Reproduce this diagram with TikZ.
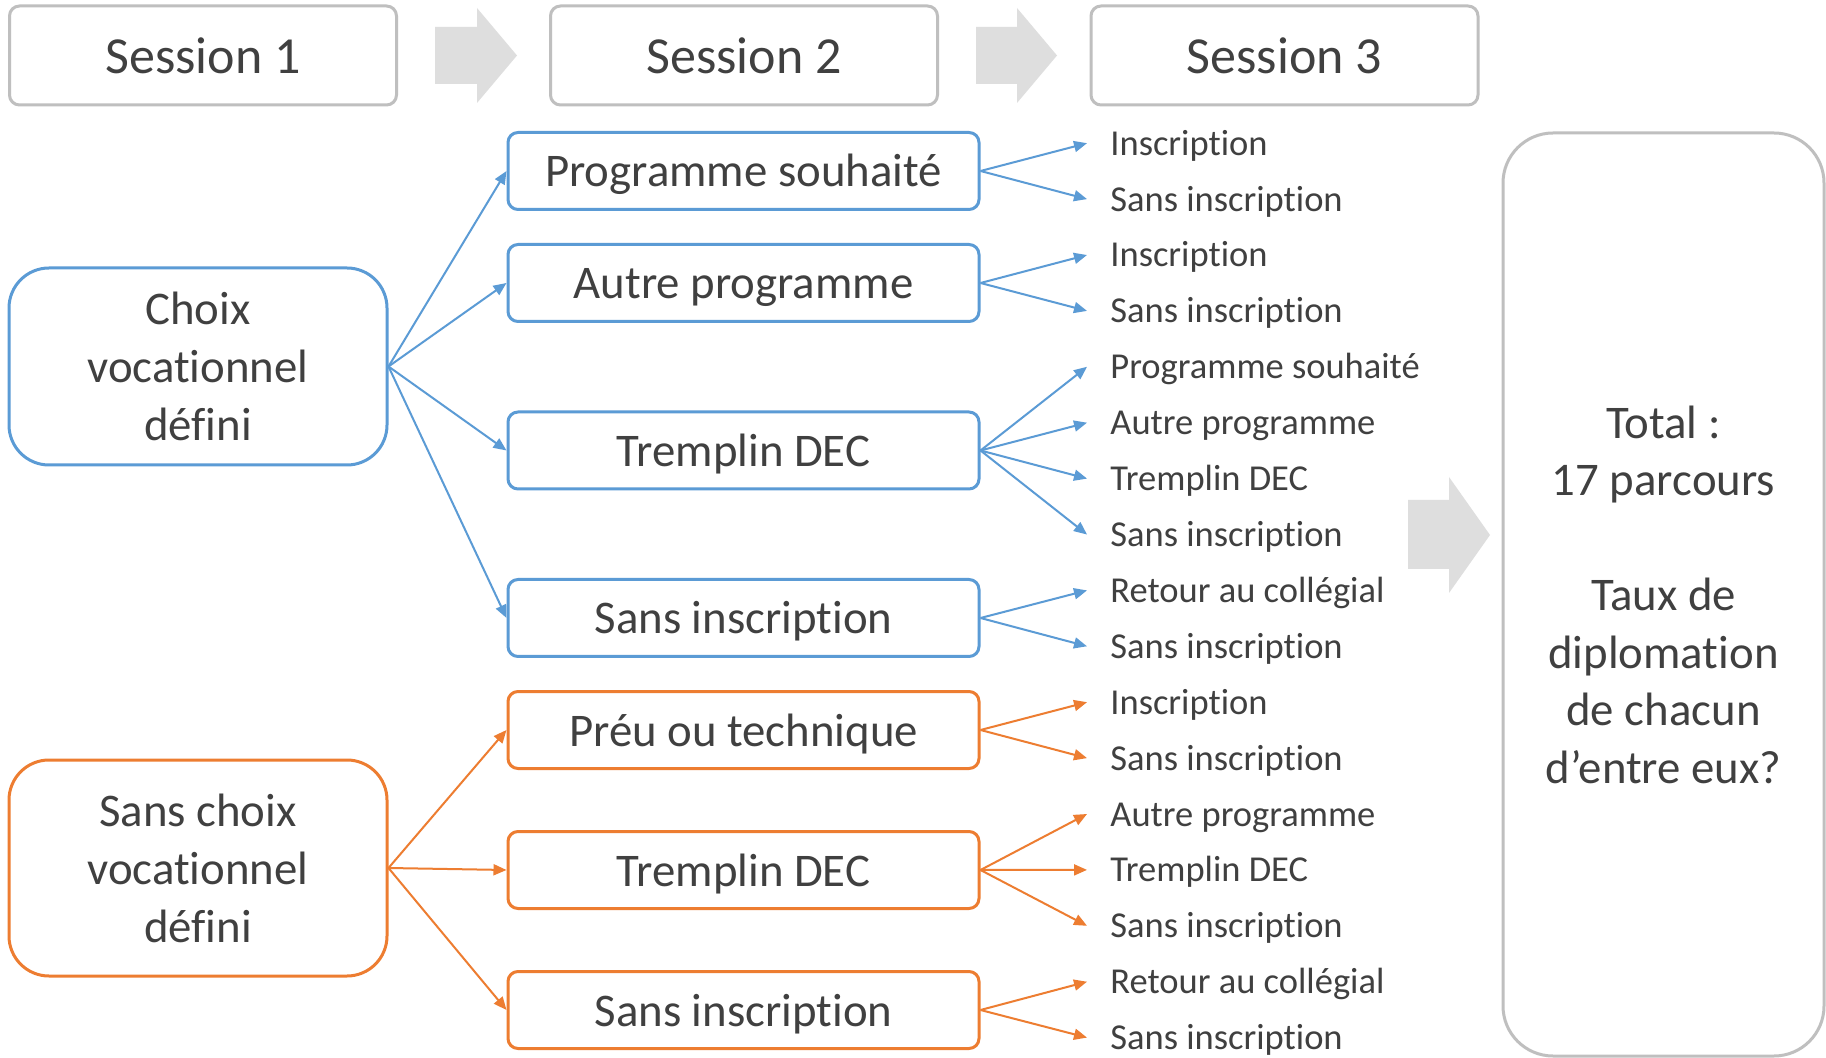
\documentclass[tikz,border=0pt]{standalone}
\usepackage{fontspec}
\setmainfont{Carlito}[Ligatures=NoCommon]
\usetikzlibrary{arrows.meta}
\definecolor{cblue}{HTML}{5B9BD5}
\definecolor{corange}{HTML}{ED7D31}
\definecolor{cgrayline}{HTML}{BFBFBF}
\definecolor{cgrayfill}{HTML}{DEDEDE}
\definecolor{ctext}{HTML}{404040}
\begin{document}
\begin{tikzpicture}[x=0.5pt,y=-0.5pt,
  every node/.style={text=ctext},
  sessbox/.style={draw=cgrayline,line width=1.5pt,rounded corners=5pt,minimum width=193.5pt,minimum height=49.5pt,font=\fontsize{26}{31}\selectfont},
  midbox/.style={line width=1.5pt,rounded corners=5pt,minimum width=235.5pt,minimum height=38.5pt,font=\fontsize{23.4}{28}\selectfont,text height=18pt,text depth=2pt},
  leftbox/.style={line width=1.5pt,rounded corners=20pt,minimum width=189pt,align=center,font=\fontsize{23.4}{29}\selectfont},
  lbl/.style={anchor=west,inner xsep=11.5pt,inner ysep=0pt,font=\fontsize{18.25}{22}\selectfont,text height=14pt,text depth=2pt},
  bconn/.style={draw=cblue,line width=1pt,-{Triangle[length=6.5pt,width=5.5pt]}},
  oconn/.style={draw=corange,line width=1pt,-{Triangle[length=6.5pt,width=5.5pt]}},
  grayarrow/.style={fill=cgrayfill,draw=none}
]
\fill[white] (0,0) rectangle (1826,1058);
\useasboundingbox (0,0) rectangle (1826,1058);

% session headers
\node[sessbox] (s1) at (203,55.5) {Session 1};
\node[sessbox] (s2) at (744,55.5) {Session 2};
\node[sessbox] (s3) at (1284.5,55.5) {Session 3};
\fill[grayarrow] (435,27) -- (477,27) -- (477,8) -- (517,55.5) -- (477,103) -- (477,84) -- (435,84) -- cycle;
\fill[grayarrow] (976,27) -- (1017,27) -- (1017,8) -- (1057,55.5) -- (1017,103) -- (1017,84) -- (976,84) -- cycle;
\fill[grayarrow] (1408,500) -- (1449,500) -- (1449,477) -- (1490,535) -- (1449,593) -- (1449,569) -- (1408,569) -- cycle;

% left boxes
\node[leftbox,draw=cblue,minimum height=98.5pt] (choix) at (198,366.5) {Choix\\vocationnel\\défini};
\node[leftbox,draw=corange,minimum height=108pt] (sans) at (198,868) {Sans choix\\vocationnel\\défini};

% middle boxes
\node[midbox,draw=cblue] (ps) at (743.5,171) {Programme souhaité};
\node[midbox,draw=cblue] (ap) at (743.5,283) {Autre programme};
\node[midbox,draw=cblue] (td) at (743.5,450.5) {Tremplin DEC};
\node[midbox,draw=cblue] (si) at (743.5,618) {Sans inscription};
\node[midbox,draw=corange] (pt) at (743.5,730) {Préu ou technique};
\node[midbox,draw=corange] (to) at (743.5,870) {Tremplin DEC};
\node[midbox,draw=corange] (so) at (743.5,1010) {Sans inscription};

% total box
\node[draw=cgrayline,line width=1.5pt,rounded corners=25pt,minimum width=160.5pt,minimum height=461.5pt,align=center,font=\fontsize{23.4}{28.75}\selectfont] (tot) at (1663.5,594.5) {Total :\\17 parcours\\\mbox{}\\Taux de\\diplomation\\de chacun\\d’entre eux?};

% right labels
\node[lbl] (l0) at (1087,143.2) {Inscription};
\node[lbl] (l1) at (1087,199.1) {Sans inscription};
\node[lbl] (l2) at (1087,255.0) {Inscription};
\node[lbl] (l3) at (1087,310.9) {Sans inscription};
\node[lbl] (l4) at (1087,366.8) {Programme souhaité};
\node[lbl] (l5) at (1087,422.7) {Autre programme};
\node[lbl] (l6) at (1087,478.6) {Tremplin DEC};
\node[lbl] (l7) at (1087,534.5) {Sans inscription};
\node[lbl] (l8) at (1087,590.4) {Retour au collégial};
\node[lbl] (l9) at (1087,646.3) {Sans inscription};
\node[lbl] (l10) at (1087,702.2) {Inscription};
\node[lbl] (l11) at (1087,758.1) {Sans inscription};
\node[lbl] (l12) at (1087,814.0) {Autre programme};
\node[lbl] (l13) at (1087,869.9) {Tremplin DEC};
\node[lbl] (l14) at (1087,925.8) {Sans inscription};
\node[lbl] (l15) at (1087,981.7) {Retour au collégial};
\node[lbl] (l16) at (1087,1037.6) {Sans inscription};

% connectors session 1 -> 2
\draw[bconn] (choix.east) -- (ps.west);
\draw[bconn] (choix.east) -- (ap.west);
\draw[bconn] (choix.east) -- (td.west);
\draw[bconn] (choix.east) -- (si.west);
\draw[oconn] (sans.east) -- (pt.west);
\draw[oconn] (sans.east) -- (to.west);
\draw[oconn] (sans.east) -- (so.west);

% connectors session 2 -> 3
\draw[bconn] (ps.east) -- (l0.west);
\draw[bconn] (ps.east) -- (l1.west);
\draw[bconn] (ap.east) -- (l2.west);
\draw[bconn] (ap.east) -- (l3.west);
\draw[bconn] (td.east) -- (l4.west);
\draw[bconn] (td.east) -- (l5.west);
\draw[bconn] (td.east) -- (l6.west);
\draw[bconn] (td.east) -- (l7.west);
\draw[bconn] (si.east) -- (l8.west);
\draw[bconn] (si.east) -- (l9.west);
\draw[oconn] (pt.east) -- (l10.west);
\draw[oconn] (pt.east) -- (l11.west);
\draw[oconn] (to.east) -- (l12.west);
\draw[oconn] (to.east) -- (l13.west);
\draw[oconn] (to.east) -- (l14.west);
\draw[oconn] (so.east) -- (l15.west);
\draw[oconn] (so.east) -- (l16.west);
\end{tikzpicture}
\end{document}
